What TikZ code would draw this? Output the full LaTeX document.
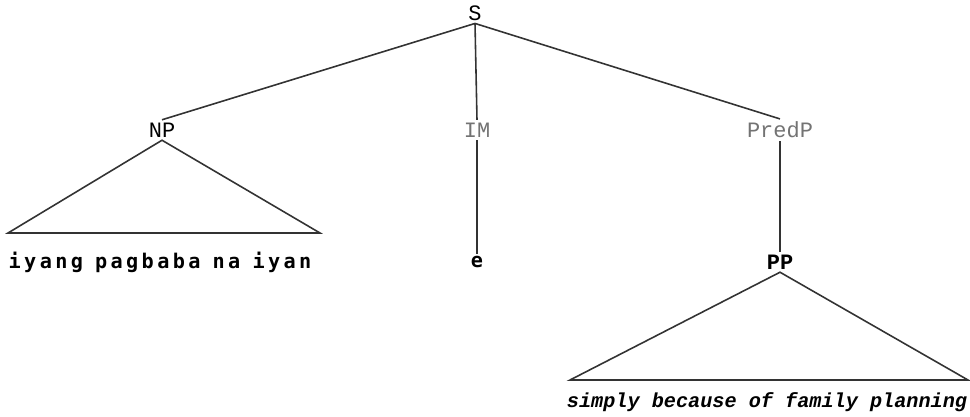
\documentclass[tikz,border=0pt]{standalone}
\usepackage{fontspec}
\setmonofont{Liberation Mono}
\newfontfamily\leaffont{DejaVu Sans Mono}
\usetikzlibrary{positioning}

\begin{document}
\begin{tikzpicture}[
            x=0.02cm, y=-0.02cm,
            % Estilo dos rotulos das categorias
            cat/.style={
                font=\ttfamily\fontsize{12.5}{14}\selectfont,
                inner sep=1.5pt
            },
            faint/.style={
                cat,
                text=black!55
            },
            % Estilo das folhas
            leaf/.style={
                font=\leaffont\bfseries\fontsize{11.5}{13}\selectfont,
                inner sep=1pt
            },
            % Estilo dos ramos
            branch/.style={
                draw=black!80,
                line width=0.9pt
            }
        ]

            \useasboundingbox (0,0) rectangle (970,416);

            % Categorias
            \node [cat] (s) at (475,13) {S};
            \node [cat] (np) at (162,130) {NP};
            \node [faint] (im) at (477,130) {IM};
            \node [faint] (predp) at (780,130) {PredP};
            \node [cat, font=\ttfamily\bfseries\fontsize{12.5}{14}\selectfont] (pp) at (780,262) {PP};

            % Folhas
            \node [leaf] (npleaf) at (160,262) {i\,y\,a\,n\,g\ p\,a\,g\,b\,a\,b\,a\ n\,a\ i\,y\,a\,n};
            \node [leaf] (imleaf) at (477,262) {e};
            \node [leaf, font=\ttfamily\bfseries\itshape\fontsize{11.5}{13}\selectfont]
                (ppleaf) at (767,402) {simply because of family planning};

            % Cantos dos triangulos
            \coordinate (np-l) at (8,233);
            \coordinate (np-r) at (320,233);
            \coordinate (pp-l) at (570,380);
            \coordinate (pp-r) at (968,380);

            % Ramos
            \draw [branch] (s.south) -- (np.north);
            \draw [branch] (s.south) -- (im.north);
            \draw [branch] (s.south) -- (predp.north);
            \draw [branch] (im.south) -- (imleaf.north);
            \draw [branch, line width=1.4pt] (predp.south) -- (pp.north);
            \draw [branch] (np.south) -- (np-l) -- (np-r) -- cycle;
            \draw [branch] (pp.south) -- (pp-l) -- (pp-r) -- cycle;

        \end{tikzpicture}
\end{document}
